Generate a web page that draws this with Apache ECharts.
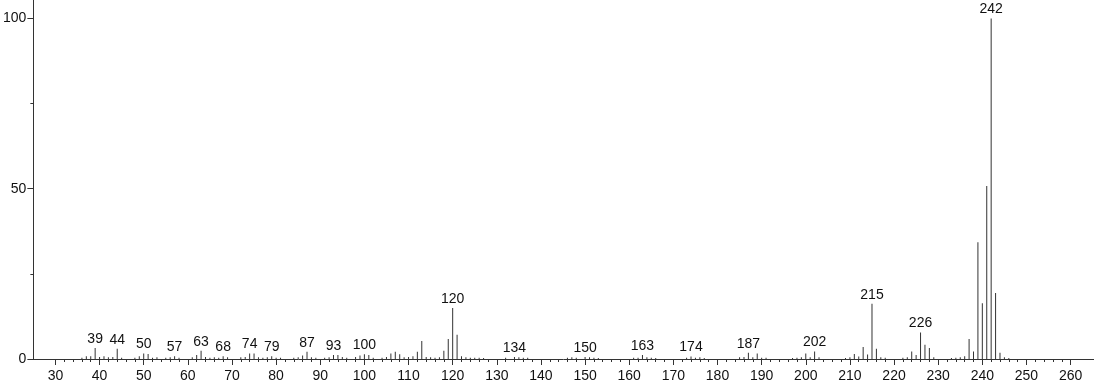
<!DOCTYPE html>
<html><head><meta charset="utf-8">
<script src="https://cdn.jsdelivr.net/npm/echarts@6/dist/echarts.min.js"></script>
<style>html,body{margin:0;padding:0;background:#fff}#c{width:1094px;height:384px}</style>
</head><body><div id="c"></div>
<script>
// m/z values and relative intensities
const mz = [36,37,38,39,40,41,42,43,44,45,48,49,50,51,52,53,55,56,57,58,61,62,63,64,65,66,67,68,69,72,73,74,75,76,77,78,79,80,81,84,85,86,87,88,89,91,92,93,94,95,96,98,99,100,101,102,104,105,106,107,108,109,110,111,112,113,114,115,116,117,118,119,120,121,122,123,124,125,126,127,132,134,135,136,137,146,147,148,150,151,152,153,161,162,163,164,165,166,173,174,175,176,177,185,186,187,188,189,190,191,197,198,199,200,201,202,203,209,210,211,212,213,214,215,216,217,218,222,223,224,225,226,227,228,229,233,234,235,236,237,238,239,240,241,242,243,244,245,246];
const intensity = [0.4,0.8,0.8,3.2,0.6,0.8,0.5,0.6,3.0,0.4,0.4,0.8,1.6,1.5,0.4,0.5,0.4,0.5,0.8,0.4,0.5,1.2,2.4,0.6,0.4,0.5,0.4,0.8,0.5,0.5,0.6,1.6,1.6,0.5,0.4,0.5,0.8,0.4,0.4,0.4,0.5,1.0,2.1,0.5,0.4,0.4,0.5,1.2,1.2,0.6,0.4,0.6,1.0,1.4,1.2,0.4,0.4,0.6,1.6,2.1,1.4,0.5,0.6,0.8,2.1,5.3,0.6,0.5,0.4,0.5,2.4,5.9,15.0,7.1,0.8,0.5,0.4,0.4,0.4,0.3,0.4,0.6,0.5,0.4,0.4,0.4,0.5,0.4,0.6,0.5,0.4,0.3,0.4,0.4,1.2,0.5,0.4,0.3,0.4,0.7,0.4,0.5,0.3,0.5,0.6,1.8,0.5,1.6,0.4,0.4,0.3,0.4,0.5,1.6,0.5,2.2,0.5,0.3,0.5,1.5,0.7,3.5,1.3,16.2,3.0,0.5,0.4,0.4,0.5,2.2,1.2,7.8,4.2,3.2,0.5,0.3,0.4,0.5,0.8,5.9,2.2,34.3,16.4,50.8,100,19.4,1.8,0.5,0.3];
const labeledPeaks = [39,44,50,57,63,68,74,79,87,93,100,120,134,150,163,174,187,202,215,226,242];
const xTickLabels = [30,40,50,60,70,80,90,100,110,120,130,140,150,160,170,180,190,200,210,220,230,240,250,260];
const xMinorTicks = [];
for (let v = 32; v <= 258; v += 2) if (v % 10 !== 0) xMinorTicks.push(v);
const yTickLabels = [0,50,100];
const yMinorTicks = [25,75];

const FONT = '"Liberation Sans", Arial, Helvetica, sans-serif';
const XMIN = 25, XMAX = 265.3, YMIN = 0, YMAX = 105.4;

const data = mz.map((m, i) => {
  const d = { value: [m, intensity[i]] };
  if (labeledPeaks.indexOf(m) >= 0) d.label = { show: true };
  return d;
});

const chart = echarts.init(document.getElementById('c'), null, { renderer: 'canvas' });
chart.setOption({
  animation: false,
  backgroundColor: '#fff',
  grid: { left: 30, right: 0, top: 0, bottom: 25, containLabel: false },
  xAxis: [
    {
      type: 'value', min: XMIN, max: XMAX, position: 'bottom',
      axisLine: { show: true, onZero: false, lineStyle: { color: '#333', width: 1 } },
      axisTick: { show: true, length: 6, customValues: xTickLabels, lineStyle: { color: '#333' } },
      axisLabel: { show: true, customValues: xTickLabels, margin: 10, fontSize: 14, color: '#111', fontFamily: FONT },
      splitLine: { show: false }
    },
    {
      type: 'value', min: XMIN, max: XMAX, position: 'bottom',
      axisLine: { show: false },
      axisTick: { show: true, length: 3, customValues: xMinorTicks, lineStyle: { color: '#333' } },
      axisLabel: { show: false },
      splitLine: { show: false }
    }
  ],
  yAxis: [
    {
      type: 'value', min: YMIN, max: YMAX, position: 'left',
      axisLine: { show: true, onZero: false, lineStyle: { color: '#333', width: 1 } },
      axisTick: { show: true, length: 6, customValues: yTickLabels, lineStyle: { color: '#333' } },
      axisLabel: { show: true, customValues: yTickLabels, margin: 7, fontSize: 14, color: '#111', fontFamily: FONT },
      splitLine: { show: false }
    },
    {
      type: 'value', min: YMIN, max: YMAX, position: 'left',
      axisLine: { show: false },
      axisTick: { show: true, length: 3, customValues: yMinorTicks, lineStyle: { color: '#333' } },
      axisLabel: { show: false },
      splitLine: { show: false }
    }
  ],
  series: [{
    type: 'bar',
    xAxisIndex: 0, yAxisIndex: 0,
    barWidth: 1,
    itemStyle: { color: '#333' },
    label: {
      show: false, position: 'top', distance: 2,
      fontSize: 14, color: '#111', fontFamily: FONT,
      formatter: p => String(p.value[0])
    },
    data: data
  }]
});
</script></body></html>
